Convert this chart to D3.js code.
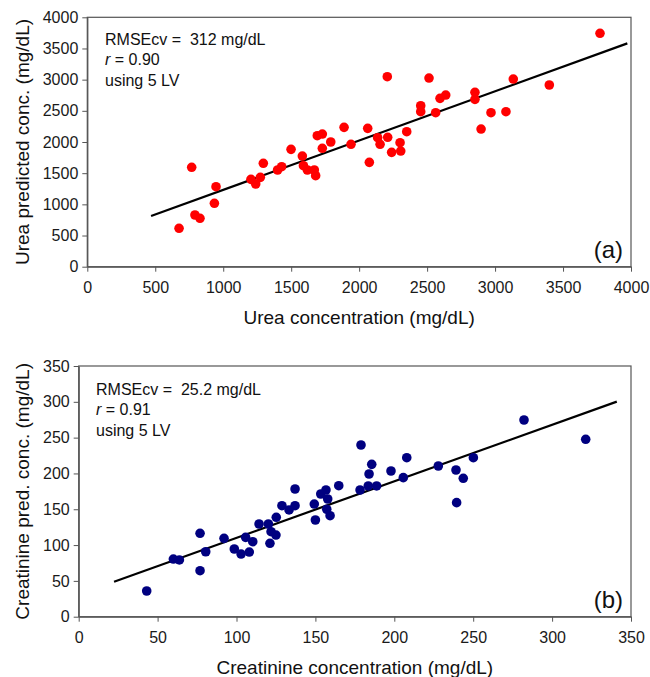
<!DOCTYPE html>
<html><head><meta charset="utf-8">
<script src="https://cdn.jsdelivr.net/npm/d3@7"></script>
<style>body{margin:0;background:#fff}svg{display:block}text{font-family:"Liberation Sans",Arial,sans-serif;white-space:pre}</style>
</head><body><svg id="c" width="650" height="677"></svg>
<script>
// Panel (a): Urea
const ureaActual = [675,768,792,829,935,947,1204,1239,1273,1295,1400,1430,1499,1582,1590,1619,1670,1680,1692,1729,1729,1791,1889,1940,2063,2075,2136,2154,2207,2210,2239,2301,2306,2350,2453,2453,2514,2563,2595,2637,2852,2852,2897,2970,3080,3134,3399,3772];
const ureaPred   = [616,1594,829,776,1017,1283,1401,1326,1433,1658,1551,1604,1882,1775,1620,1551,1551,1460,2101,2128,1899,2000,2235,1963,2219,1674,2069,1963,3047,2075,1834,1989,1855,2165,2582,2486,3026,2470,2700,2753,2797,2684,2208,2470,2486,3010,2914,3743];
const ureaFitX = [469,3973];
const ureaFitY = [813,3582];
const ureaTicks = [0,500,1000,1500,2000,2500,3000,3500,4000];
const ureaNotes = ["RMSEcv =  312 mg/dL","r = 0.90","using 5 LV"];

// Panel (b): Creatinine
const creatActual = [43.1,60,63.8,76.9,76.9,80.5,92.1,98.6,102.9,105.8,108.1,110.3,114.3,120.2,121.2,121.9,125,125.2,128.8,133.3,137.1,137.1,149.3,150,153.4,156.7,157.8,157.2,159.3,164.8,178.3,178.9,183.5,184,185.7,188.8,197.9,205.7,207.9,227.9,239.1,239.5,243.7,250.1,282.2,321.3];
const creatPred   = [35.9,80.5,79.2,116.4,64.2,90.7,109.4,94.5,87.5,110.8,90.3,104.7,129.4,129.4,102.5,118.7,114,138.8,155,149,178.3,155,157.3,135,171.3,176.9,164.3,150,141,182.9,176.9,239.7,182.5,199.2,212.7,182.5,203.4,194.1,222,210.4,204.8,159.2,193.2,222,274.6,247.7];
const creatFitX = [22.4,341];
const creatFitY = [48.9,300.3];
const creatTicks = [0,50,100,150,200,250,300,350];
const creatNotes = ["RMSEcv =  25.2 mg/dL","r = 0.91","using 5 LV"];

const svg = d3.select("#c");

function panel(cfg){
  const x = d3.scaleLinear().domain(cfg.dom).range([cfg.x0, cfg.x1]);
  const y = d3.scaleLinear().domain(cfg.dom).range([cfg.y0, cfg.y1]);
  const g = svg.append("g");
  g.append("rect").attr("x",cfg.x0).attr("y",cfg.y1).attr("width",cfg.x1-cfg.x0).attr("height",cfg.y0-cfg.y1)
    .attr("fill","none").attr("stroke","#555").attr("stroke-width",1.2);
  const xa = g.append("g").attr("transform",`translate(0,${cfg.y0})`)
    .call(d3.axisBottom(x).tickValues(cfg.ticks).tickSize(5).tickSizeOuter(0).tickPadding(10).tickFormat(d3.format("d")));
  const ya = g.append("g").attr("transform",`translate(${cfg.x0},0)`)
    .call(d3.axisLeft(y).tickValues(cfg.ticks).tickSize(5).tickSizeOuter(0).tickPadding(4).tickFormat(d3.format("d")));
  [xa,ya].forEach(a=>{
    a.select(".domain").attr("stroke","#555").attr("stroke-width",1.2);
    a.selectAll(".tick line").attr("stroke","#555");
    a.selectAll("text").attr("font-size",16).attr("fill","#1a1a1a").style("font-family","Liberation Sans, Arial, sans-serif");
  });
  const line = d3.line().x(d=>x(d[0])).y(d=>y(d[1]));
  g.append("path").datum(cfg.fx.map((v,i)=>[v,cfg.fy[i]])).attr("d",line)
    .attr("stroke","#000").attr("stroke-width",2.2).attr("fill","none");
  g.selectAll("circle.pt").data(cfg.ax.map((v,i)=>[v,cfg.py[i]])).join("circle")
    .attr("class","pt").attr("cx",d=>x(d[0])).attr("cy",d=>y(d[1])).attr("r",4.8).attr("fill",cfg.color);
  cfg.notes.forEach((t,i)=>{
    const tx = g.append("text").attr("x",cfg.nx).attr("y",cfg.ny+i*20.7).attr("font-size",16).attr("fill","#111");
    if(t.startsWith("r =")){
      tx.append("tspan").attr("font-style","italic").text("r");
      tx.append("tspan").text(" = "+t.split("= ")[1]);
    } else tx.text(t);
  });
  g.append("text").attr("x",cfg.x1-8).attr("y",cfg.y0-9).attr("text-anchor","end")
    .attr("font-size",24).attr("fill","#111").text(cfg.label);
  g.append("text").attr("x",(cfg.x0+cfg.x1)/2).attr("y",cfg.y0+57).attr("text-anchor","middle")
    .attr("font-size",19).attr("fill","#111").text(cfg.xt);
  g.append("text").attr("transform",`translate(29,${(cfg.y0+cfg.y1)/2}) rotate(-90)`).attr("text-anchor","middle")
    .attr("font-size",19).attr("fill","#111").text(cfg.yt);
}

panel({dom:[0,4000],x0:87.3,x1:631,y0:266.7,y1:17.3,ticks:ureaTicks,ax:ureaActual,py:ureaPred,fx:ureaFitX,fy:ureaFitY,
  color:"#ff0000",notes:ureaNotes,nx:105,ny:44.5,label:"(a)",xt:"Urea concentration (mg/dL)",yt:"Urea predicted conc. (mg/dL)"});
panel({dom:[0,350],x0:78.7,x1:631,y0:616.7,y1:366,ticks:creatTicks,ax:creatActual,py:creatPred,fx:creatFitX,fy:creatFitY,
  color:"#000080",notes:creatNotes,nx:96,ny:394.5,label:"(b)",xt:"Creatinine concentration (mg/dL)",yt:"Creatinine pred. conc. (mg/dL)"});
</script></body></html>
